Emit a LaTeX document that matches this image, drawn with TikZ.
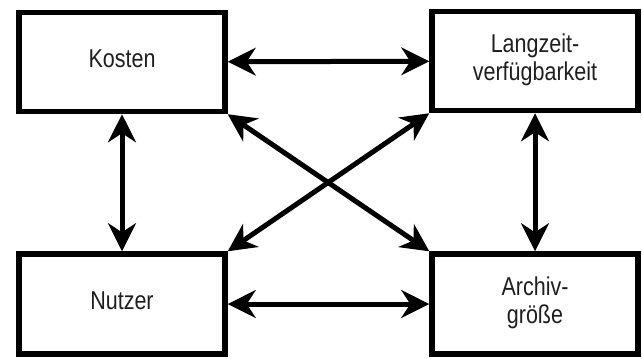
\documentclass[tikz,border=0pt]{standalone}
\usepackage{fontspec}
\setmainfont{Liberation Sans}
\usetikzlibrary{arrows.meta}
% box label: centred lines, slightly stretched vertically
\newcommand{\boxlabel}[1]{\scalebox{1}[1.2]{\begin{tabular}{@{}c@{}}#1\end{tabular}}}
\begin{document}
\begin{tikzpicture}[x=1bp,y=-1bp,
  block/.style={draw, line width=5.5bp, minimum width=206bp, minimum height=99bp,
    inner sep=0pt, fill=white, text=black!88,
    font=\fontsize{21.5bp}{23bp}\selectfont},
  tip/.tip={Stealth[length=28bp,width=28bp,inset=9bp]},
  link/.style={line width=5bp, tip-tip}]
\useasboundingbox[fill=white] (0,0) rectangle (642,358);
\node[block] (kosten) at (122,62)  {\boxlabel{Kosten}};
\node[block] (lang)   at (535,61)  {\boxlabel{Langzeit-\\verfügbarkeit}};
\node[block, minimum height=100bp] (nutzer) at (122,304) {\boxlabel{Nutzer}};
\node[block, minimum height=100bp] (archiv) at (535,304) {\boxlabel{Archiv-\\größe}};
\draw[link] (kosten) -- (lang);
\draw[link] (nutzer) -- (archiv);
\draw[link] (kosten) -- (nutzer);
\draw[link] (lang) -- (archiv);
\draw[link] (kosten.south east) -- (archiv.north west);
\draw[link] (lang.south west) -- (nutzer.north east);
\end{tikzpicture}
\end{document}
